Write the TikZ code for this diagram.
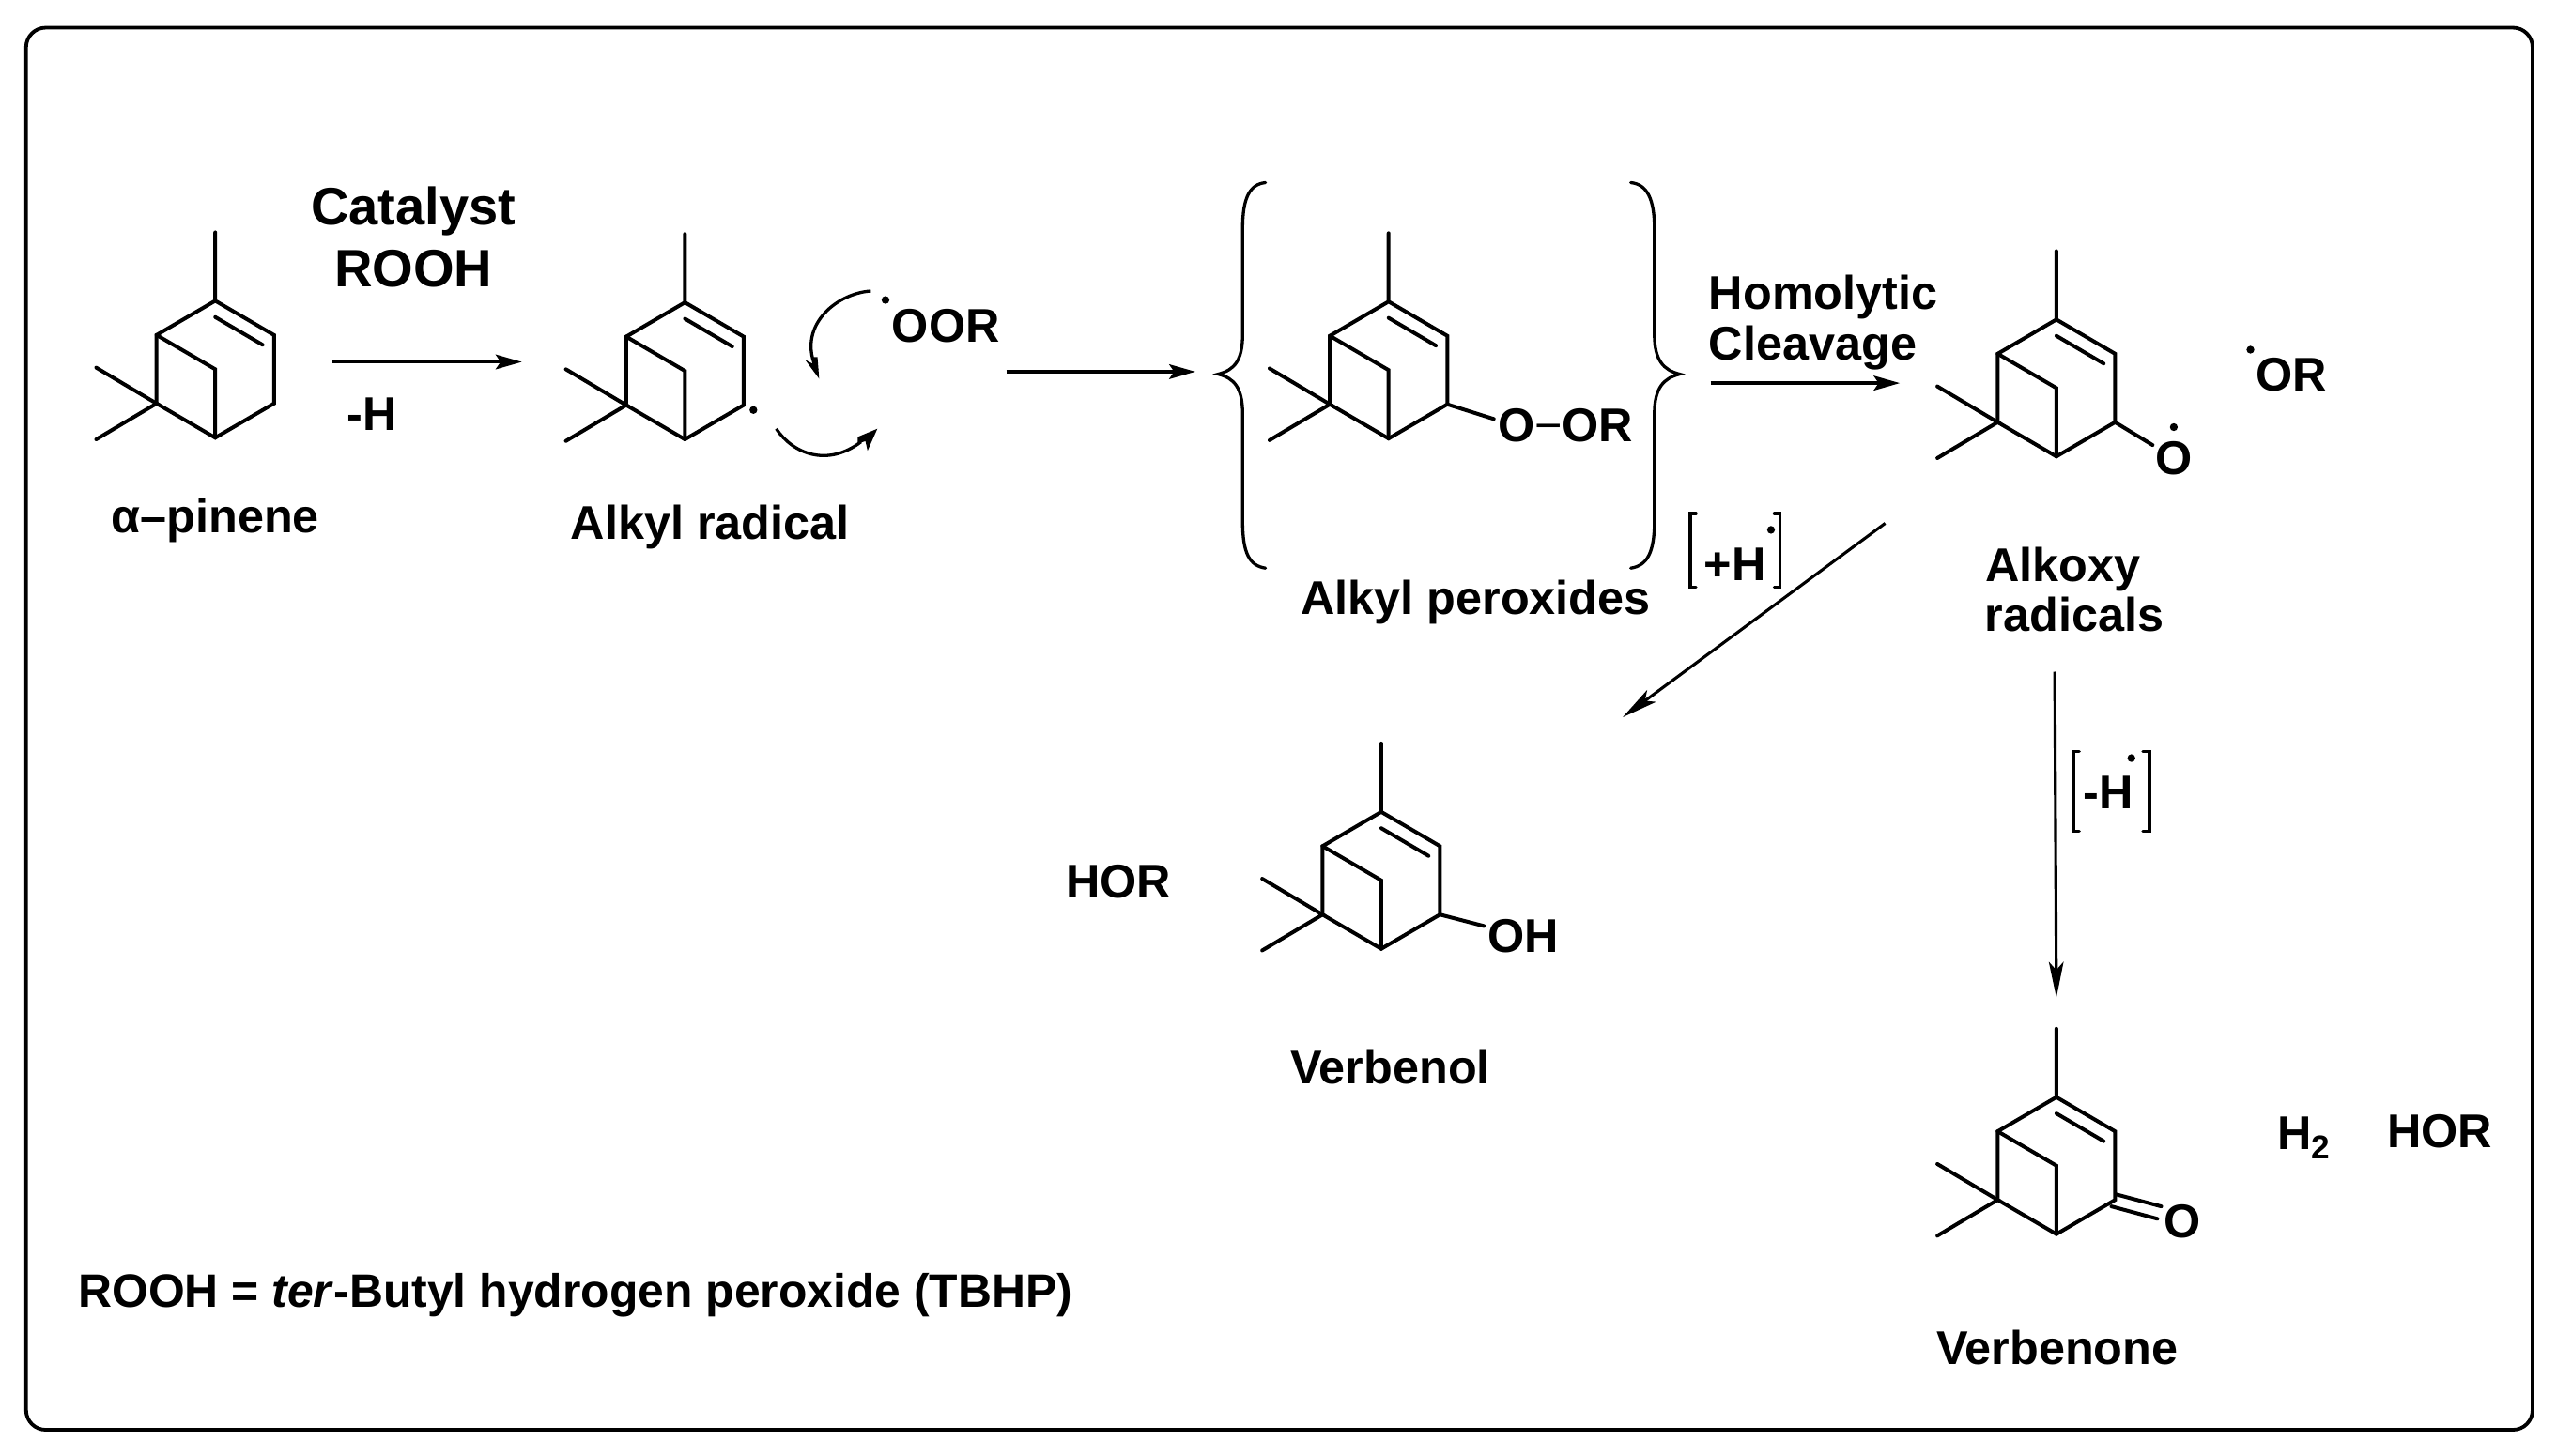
\documentclass[tikz,border=0pt]{standalone}
\usepackage{fontspec}
\setmainfont{Liberation Sans}
\usetikzlibrary{arrows.meta}
\tikzset{
  bondline/.style={line width=2.3pt,line cap=round,line join=miter},
  rxnarrow/.style={line width=2pt,-{Stealth[length=16pt,width=9pt,inset=3pt]}},
  thinarrow/.style={line width=1.8pt,-{Stealth[length=22pt,width=9pt,inset=5pt]}},
  curlyline/.style={line width=1.9pt},
  bracketline/.style={line width=1.9pt,line cap=round},
  lab/.style={font=\fontsize{29}{29}\selectfont\bfseries,anchor=base,inner sep=0pt,outer sep=0pt},
  labbig/.style={lab,font=\fontsize{32.3}{32}\selectfont\bfseries},
  radicaldot/.style={circle,fill=black,inner sep=0pt,minimum size=4.8pt}
}
\newcommand{\pineneskel}[3]{%
  \begin{scope}[shift={(#2,#3)}]
    \coordinate (#1B) at (0,0);
    \coordinate (#1T) at (0,-126);
    \coordinate (#1A) at (0,-84);
    \coordinate (#1RU) at (36,-63);
    \coordinate (#1RL) at (36,-21);
    \coordinate (#1LL) at (-36,-21);
    \coordinate (#1LU) at (-36,-63);
    \coordinate (#1M) at (0,-42);
    \coordinate (#1G) at (-73,-43);
    \coordinate (#1H) at (-73,1);
    \coordinate (#1D) at (0,-74);
    \coordinate (#1E) at (29,-57);
    \draw[bondline] (#1T) -- (#1A) -- (#1RU) -- (#1RL) -- (#1B) -- (#1LL) -- (#1LU) -- (#1A);
    \draw[bondline] (#1LU) -- (#1M) -- (#1B);
    \draw[bondline] (#1G) -- (#1LL) -- (#1H);
    \draw[bondline] (#1D) -- (#1E);
  \end{scope}}
\begin{document}
\begin{tikzpicture}[x=1pt,y=-1pt]
\useasboundingbox (0,0) rectangle (1568,892.6);
\fill[white] (0,0) rectangle (1568,892.6);
\draw[line width=2.2pt,rounded corners=12pt] (16,17) rectangle (1553,877);

% molecules
\pineneskel{a}{132}{268.5}
\pineneskel{b}{420}{269.5}
\pineneskel{c}{851.5}{269}
\pineneskel{d}{1261}{280}
\pineneskel{e}{847}{582}
\pineneskel{f}{1261}{757}

% radical on alkyl
\node[lab] (oor) at (580,210) {OOR};
\node[radicaldot] (dotb) at (462,251.5) {};
\node[radicaldot] (dotoor) at (543,184) {};

% peroxide substituent
\node[lab] (oorb) at (960,271) {O{\fontseries{m}\selectfont−}OR};
\coordinate (cO) at (916,257);
\draw[bondline] (cRL) -- (cO);

% alkoxy
\node[lab] (oxy) at (1333,291) {O};
\node[radicaldot] (dotoxy) at (1333,262) {};
\coordinate (dO) at (1320,273);
\draw[bondline] (dRL) -- (dO);
\node[lab] (orfree) at (1405,240) {OR};
\node[radicaldot] (dotor) at (1380,214.5) {};

% verbenol
\node[lab] (oh) at (934,584) {OH};
\coordinate (eO) at (910,568);
\draw[bondline] (eRL) -- (eO);
\node[lab] (hor1) at (686,551) {HOR};

% verbenone
\node[lab] (oket) at (1338,759) {O};
\coordinate (f1a) at (1297.5,732.6);
\coordinate (f1b) at (1325.3,740);
\coordinate (f2a) at (1294.7,740);
\coordinate (f2b) at (1322.9,747.6);
\draw[bondline] (f1a) -- (f1b);
\draw[bondline] (f2a) -- (f2b);
\node[lab] (h2) at (1413,705) {H\textsubscript{2}};
\node[lab] (hor2) at (1496,704) {HOR};

% reagents & labels
\node[labbig] (cat) at (253.5,138) {Catalyst};
\node[labbig] (rooh) at (253.5,176) {ROOH};
\node[lab] (mh) at (228,264) {-H};
\node[lab] (nameA) at (132,327) {α–pinene};
\node[lab] (nameB) at (435.5,331) {Alkyl radical};
\node[lab] (nameC) at (905,377) {Alkyl peroxides};
\node[lab,anchor=base west] (homo) at (1048,190) {Homolytic};
\node[lab,anchor=base west] (clea) at (1048,221) {Cleavage};
\node[lab] (alk1) at (1265,357) {Alkoxy};
\node[lab] (alk2) at (1272,387) {radicals};
\node[lab] (nameE) at (852.5,665) {Verbenol};
\node[lab] (nameF) at (1261.5,837) {Verbenone};
\node[lab,anchor=base west,font=\fontsize{28.7}{29}\selectfont\bfseries] (note) at (48,802) {ROOH = \textit{ter}-Butyl hydrogen peroxide (TBHP)};

% reaction arrows
\coordinate (a1s) at (204,222); \coordinate (a1e) at (320,222);
\coordinate (a2s) at (617,228); \coordinate (a2e) at (733,228);
\coordinate (a3s) at (1049,235); \coordinate (a3e) at (1165,235);
\coordinate (a4s) at (1156,321); \coordinate (a4e) at (995,440);
\coordinate (a5s) at (1260,412); \coordinate (a5e) at (1261,612);
\draw[rxnarrow] (a1s) -- (a1e);
\draw[rxnarrow] (a2s) -- (a2e);
\draw[rxnarrow] (a3s) -- (a3e);
\draw[thinarrow] (a4s) -- (a4e);
\draw[thinarrow] (a5s) -- (a5e);

% curly half arrows
\coordinate (u1) at (534,178.5); \coordinate (u2) at (501,227);
\draw[curlyline] (u1) .. controls (512,180) and (488,201) .. (u2);
\fill (502.3,232.3) -- (493.7,220.7) -- (498.2,223) -- (499.3,219) -- (501.3,219) -- cycle;
\coordinate (l1) at (476,263); \coordinate (l2) at (528,271);
\draw[curlyline] (l1) .. controls (486,278) and (507,287) .. (l2);
\fill (538,263) -- (532,276.5) -- (530.7,270.6) -- (526,272) -- (526,268) -- cycle;

% braces
\draw[bracketline] (776,112) .. controls (766,113) and (762,122) .. (762,140)
  -- (762,205) .. controls (762,221) and (757,227) .. (747,229.5)
  .. controls (757,232) and (762,238) .. (762,254)
  -- (762,320) .. controls (762,339) and (766,347) .. (776,348.5);
\draw[bracketline] (1000,112) .. controls (1010,113) and (1014.5,122) .. (1014.5,140)
  -- (1014.5,205) .. controls (1014.5,221) and (1020,227) .. (1030,229.5)
  .. controls (1020,232) and (1014.5,238) .. (1014.5,254)
  -- (1014.5,320) .. controls (1014.5,339) and (1010,347) .. (1000,348.5);

% [+H.]
\node[lab] (plush) at (1064,356) {+H};
\node[radicaldot] (dotp) at (1086,325) {};
\draw[bracketline] (1040,315) -- (1036.5,315) -- (1036.5,360) -- (1040,360);
\draw[bracketline] (1088,315) -- (1091.5,315) -- (1091.5,360) -- (1088,360);

% [-H.]
\node[lab] (minush) at (1293,496) {-H};
\node[radicaldot] (dotm) at (1307,465) {};
\draw[bracketline] (1275,461) -- (1271.5,461) -- (1271.5,510) -- (1275,510);
\draw[bracketline] (1314,461) -- (1318,461) -- (1318,510) -- (1314,510);
\end{tikzpicture}
\end{document}
